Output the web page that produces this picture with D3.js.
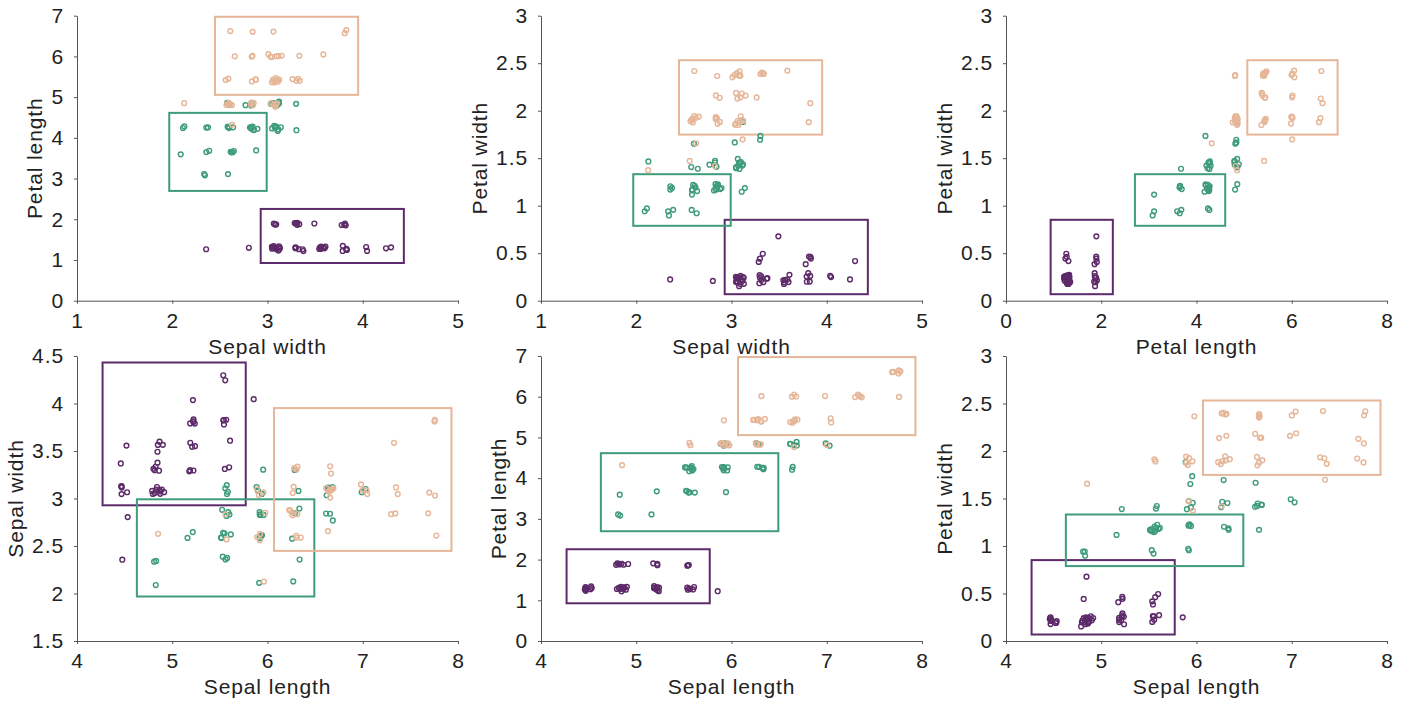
<!DOCTYPE html>
<html>
<head>
<meta charset="utf-8">
<script src="https://cdn.jsdelivr.net/npm/d3@7"></script>
<style>
  body { margin: 0; background: #fff; }
  svg text { font-family: "Liberation Sans", Arial, sans-serif; fill: #222; letter-spacing: 0.9px; }
</style>
</head>
<body>
<div id="chart"></div>
<script>
// Iris measurements (cm), 50 setosa, 50 versicolor, 50 virginica
const sepal_length = [
  5.1,4.9,4.7,4.6,5.0,5.4,4.6,5.0,4.4,4.9,5.4,4.8,4.8,4.3,5.8,5.7,5.4,5.1,5.7,5.1,5.4,5.1,4.6,5.1,4.8,
  5.0,5.0,5.2,5.2,4.7,4.8,5.4,5.2,5.5,4.9,5.0,5.5,4.9,4.4,5.1,5.0,4.5,4.4,5.0,5.1,4.8,5.1,4.6,5.3,5.0,
  7.0,6.4,6.9,5.5,6.5,5.7,6.3,4.9,6.6,5.2,5.0,5.9,6.0,6.1,5.6,6.7,5.6,5.8,6.2,5.6,5.9,6.1,6.3,6.1,6.4,
  6.6,6.8,6.7,6.0,5.7,5.5,5.5,5.8,6.0,5.4,6.0,6.7,6.3,5.6,5.5,5.5,6.1,5.8,5.0,5.6,5.7,5.7,6.2,5.1,5.7,
  6.3,5.8,7.1,6.3,6.5,7.6,4.9,7.3,6.7,7.2,6.5,6.4,6.8,5.7,5.8,6.4,6.5,7.7,7.7,6.0,6.9,5.6,7.7,6.3,6.7,
  7.2,6.2,6.1,6.4,7.2,7.4,7.9,6.4,6.3,6.1,7.7,6.3,6.4,6.0,6.9,6.7,6.9,5.8,6.8,6.7,6.7,6.3,6.5,6.2,5.9
];
const sepal_width = [
  3.5,3.0,3.2,3.1,3.6,3.9,3.4,3.4,2.9,3.1,3.7,3.4,3.0,3.0,4.0,4.4,3.9,3.5,3.8,3.8,3.4,3.7,3.6,3.3,3.4,
  3.0,3.4,3.5,3.4,3.2,3.1,3.4,4.1,4.2,3.1,3.2,3.5,3.6,3.0,3.4,3.5,2.3,3.2,3.5,3.8,3.0,3.8,3.2,3.7,3.3,
  3.2,3.2,3.1,2.3,2.8,2.8,3.3,2.4,2.9,2.7,2.0,3.0,2.2,2.9,2.9,3.1,3.0,2.7,2.2,2.5,3.2,2.8,2.5,2.8,2.9,
  3.0,2.8,3.0,2.9,2.6,2.4,2.4,2.7,2.7,3.0,3.4,3.1,2.3,3.0,2.5,2.6,3.0,2.6,2.3,2.7,3.0,2.9,2.9,2.5,2.8,
  3.3,2.7,3.0,2.9,3.0,3.0,2.5,2.9,2.5,3.6,3.2,2.7,3.0,2.5,2.8,3.2,3.0,3.8,2.6,2.2,3.2,2.8,2.8,2.7,3.3,
  3.2,2.8,3.0,2.8,3.0,2.8,3.8,2.8,2.8,2.6,3.0,3.4,3.1,3.0,3.1,3.1,3.1,2.7,3.2,3.3,3.0,2.5,3.0,3.4,3.0
];
const petal_length = [
  1.4,1.4,1.3,1.5,1.4,1.7,1.4,1.5,1.4,1.5,1.5,1.6,1.4,1.1,1.2,1.5,1.3,1.4,1.7,1.5,1.7,1.5,1.0,1.7,1.9,
  1.6,1.6,1.5,1.4,1.6,1.6,1.5,1.5,1.4,1.5,1.2,1.3,1.4,1.3,1.5,1.3,1.3,1.3,1.6,1.9,1.4,1.6,1.4,1.5,1.4,
  4.7,4.5,4.9,4.0,4.6,4.5,4.7,3.3,4.6,3.9,3.5,4.2,4.0,4.7,3.6,4.4,4.5,4.1,4.5,3.9,4.8,4.0,4.9,4.7,4.3,
  4.4,4.8,5.0,4.5,3.5,3.8,3.7,3.9,5.1,4.5,4.5,4.7,4.4,4.1,4.0,4.4,4.6,4.0,3.3,4.2,4.2,4.2,4.3,3.0,4.1,
  6.0,5.1,5.9,5.6,5.8,6.6,4.5,6.3,5.8,6.1,5.1,5.3,5.5,5.0,5.1,5.3,5.5,6.7,6.9,5.0,5.7,4.9,6.7,4.9,5.7,
  6.0,4.8,4.9,5.6,5.8,6.1,6.4,5.6,5.1,5.6,6.1,5.6,5.5,4.8,5.4,5.6,5.1,5.1,5.9,5.7,5.2,5.0,5.2,5.4,5.1
];
const petal_width = [
  0.2,0.2,0.2,0.2,0.2,0.4,0.3,0.2,0.2,0.1,0.2,0.2,0.1,0.1,0.2,0.4,0.4,0.3,0.3,0.3,0.2,0.4,0.2,0.5,0.2,
  0.2,0.4,0.2,0.2,0.2,0.2,0.4,0.1,0.2,0.2,0.2,0.2,0.1,0.2,0.2,0.3,0.3,0.2,0.6,0.4,0.3,0.2,0.2,0.2,0.2,
  1.4,1.5,1.5,1.3,1.5,1.3,1.6,1.0,1.3,1.4,1.0,1.5,1.0,1.4,1.3,1.4,1.5,1.0,1.5,1.1,1.8,1.3,1.5,1.2,1.3,
  1.4,1.4,1.7,1.5,1.0,1.1,1.0,1.2,1.6,1.5,1.6,1.5,1.3,1.3,1.3,1.2,1.4,1.2,1.0,1.3,1.2,1.3,1.3,1.1,1.3,
  2.5,1.9,2.1,1.8,2.2,2.1,1.7,1.8,1.8,2.5,2.0,1.9,2.1,2.0,2.4,2.3,1.8,2.2,2.3,1.5,2.3,2.0,2.0,1.8,2.1,
  1.8,1.8,1.8,2.1,1.6,1.9,2.0,2.2,1.5,1.4,2.3,2.4,1.8,1.8,2.1,2.4,2.3,1.9,2.3,2.5,2.3,1.9,2.0,2.3,1.8
];
const species_names = ['setosa', 'versicolor', 'virginica'];
const species = [].concat(...species_names.map(s => Array(50).fill(s)));

// Class boxes, as ranges of bin indices (10 equal-width bins per variable)
const box_setosa     = {sl: [0, 3], sw: [4, 9], pl: [0, 1], pw: [0, 2]};
const box_versicolor = {sl: [1, 5], sw: [0, 3], pl: [3, 5], pw: [3, 4]};
const box_virginica  = {sl: [5, 9], sw: [2, 7], pl: [7, 9], pw: [7, 9]};

const panels = [
  {x: 'sw', y: 'pl', xDomain: [1, 5], yDomain: [0, 7],   xTicks: [1, 2, 3, 4, 5], yTicks: [0, 1, 2, 3, 4, 5, 6, 7]},
  {x: 'sw', y: 'pw', xDomain: [1, 5], yDomain: [0, 3],   xTicks: [1, 2, 3, 4, 5], yTicks: [0, 0.5, 1, 1.5, 2, 2.5, 3]},
  {x: 'pl', y: 'pw', xDomain: [0, 8], yDomain: [0, 3],   xTicks: [0, 2, 4, 6, 8], yTicks: [0, 0.5, 1, 1.5, 2, 2.5, 3]},
  {x: 'sl', y: 'sw', xDomain: [4, 8], yDomain: [1.5, 4.5], xTicks: [4, 5, 6, 7, 8], yTicks: [1.5, 2, 2.5, 3, 3.5, 4, 4.5]},
  {x: 'sl', y: 'pl', xDomain: [4, 8], yDomain: [0, 7],   xTicks: [4, 5, 6, 7, 8], yTicks: [0, 1, 2, 3, 4, 5, 6, 7]},
  {x: 'sl', y: 'pw', xDomain: [4, 8], yDomain: [0, 3],   xTicks: [4, 5, 6, 7, 8], yTicks: [0, 0.5, 1, 1.5, 2, 2.5, 3]},
];

const C = {
  width: 1412,
  height: 707,
  n_bins: 10,
  plot_left: [77, 541, 1006],
  plot_top: [15.7, 356],
  plot_w: 381,
  plot_h: 285,
  colors: {setosa: '#5d2a69', versicolor: '#3f9c7b', virginica: '#e6b699'},
  axis_color: '#555',
  font_size: 21,
  radius: 2.4,
  jitter_sd: 0.03,
  box_pad: 3,
};

const variables = {
  sl: {label: 'Sepal length', values: sepal_length},
  sw: {label: 'Sepal width',  values: sepal_width},
  pl: {label: 'Petal length', values: petal_length},
  pw: {label: 'Petal width',  values: petal_width},
};

// Equal-width binning (right-inclusive intervals), each point drawn at its bin centre
Object.values(variables).forEach(v => {
  const [lo, hi] = d3.extent(v.values);
  v.min = lo;
  v.step = (hi - lo) / C.n_bins;
  v.edge = i => lo + i * v.step;
  v.bin = val => Math.max(0, Math.ceil((val - lo) / v.step - 1e-9) - 1);
});

// seeded jitter so the picture is the same on every load
const jitter = d3.randomNormal.source(d3.randomLcg(0.4217))(0, C.jitter_sd);
const clampJ = j => Math.max(-2.5 * C.jitter_sd, Math.min(2.5 * C.jitter_sd, j));

const points = species.map((s, i) => {
  const p = {species: s};
  Object.entries(variables).forEach(([k, v]) => {
    const b = v.bin(v.values[i]);
    p[k] = v.edge(b + 0.5) + clampJ(jitter());
  });
  return p;
});

const boxes = [
  {species: 'setosa', bins: box_setosa},
  {species: 'versicolor', bins: box_versicolor},
  {species: 'virginica', bins: box_virginica},
];

const svg = d3.select('#chart').append('svg')
  .attr('width', C.width)
  .attr('height', C.height);

panels.forEach((panel, idx) => {
  const left = C.plot_left[idx % 3];
  const top = C.plot_top[Math.floor(idx / 3)];
  const vx = variables[panel.x], vy = variables[panel.y];

  const X = d3.scaleLinear().domain(panel.xDomain).range([0, C.plot_w]);
  const Y = d3.scaleLinear().domain(panel.yDomain).range([C.plot_h, 0]);

  const g = svg.append('g').attr('transform', `translate(${left},${top})`);

  // class boxes, padded a little outside the bin edges
  g.selectAll('rect.box')
    .data(boxes)
    .join('rect')
    .attr('class', 'box')
    .attr('x', d => X(vx.edge(d.bins[panel.x][0])) - C.box_pad)
    .attr('width', d => X(vx.edge(d.bins[panel.x][1] + 1)) - X(vx.edge(d.bins[panel.x][0])) + 2 * C.box_pad)
    .attr('y', d => Y(vy.edge(d.bins[panel.y][1] + 1)) - C.box_pad)
    .attr('height', d => Y(vy.edge(d.bins[panel.y][0])) - Y(vy.edge(d.bins[panel.y][1] + 1)) + 2 * C.box_pad)
    .attr('fill', 'none')
    .attr('stroke', d => C.colors[d.species])
    .attr('stroke-width', 2);

  // jittered points
  g.selectAll('circle')
    .data(points)
    .join('circle')
    .attr('cx', d => X(d[panel.x]))
    .attr('cy', d => Y(d[panel.y]))
    .attr('r', C.radius)
    .attr('fill', 'none')
    .attr('stroke', d => C.colors[d.species])
    .attr('stroke-width', 1.4);

  const fmt = d => String(d);

  const xAxis = g.append('g')
    .attr('transform', `translate(0,${C.plot_h})`)
    .call(d3.axisBottom(X).tickValues(panel.xTicks).tickFormat(fmt).tickSize(3).tickSizeOuter(0).tickPadding(9));

  const yAxis = g.append('g')
    .call(d3.axisLeft(Y).tickValues(panel.yTicks).tickFormat(fmt).tickSize(3).tickSizeOuter(0).tickPadding(10));

  [xAxis, yAxis].forEach(ax => {
    ax.select('.domain').attr('stroke', C.axis_color);
    ax.selectAll('.tick line').attr('stroke', C.axis_color);
    ax.selectAll('.tick text')
      .attr('fill', '#222')
      .style('font-size', C.font_size + 'px')
      .style('font-family', '"Liberation Sans", Arial, sans-serif');
  });

  // axis titles
  g.append('text')
    .attr('x', C.plot_w / 2)
    .attr('y', C.plot_h + 53)
    .attr('text-anchor', 'middle')
    .style('font-size', C.font_size + 'px')
    .text(vx.label);

  const maxTickW = d3.max(yAxis.selectAll('.tick text').nodes(), n => n.getComputedTextLength());
  g.append('text')
    .attr('transform', `translate(${-(maxTickW + 22.5)},${C.plot_h / 2}) rotate(-90)`)
    .attr('text-anchor', 'middle')
    .style('font-size', C.font_size + 'px')
    .text(vy.label);
});
</script>
</body>
</html>
